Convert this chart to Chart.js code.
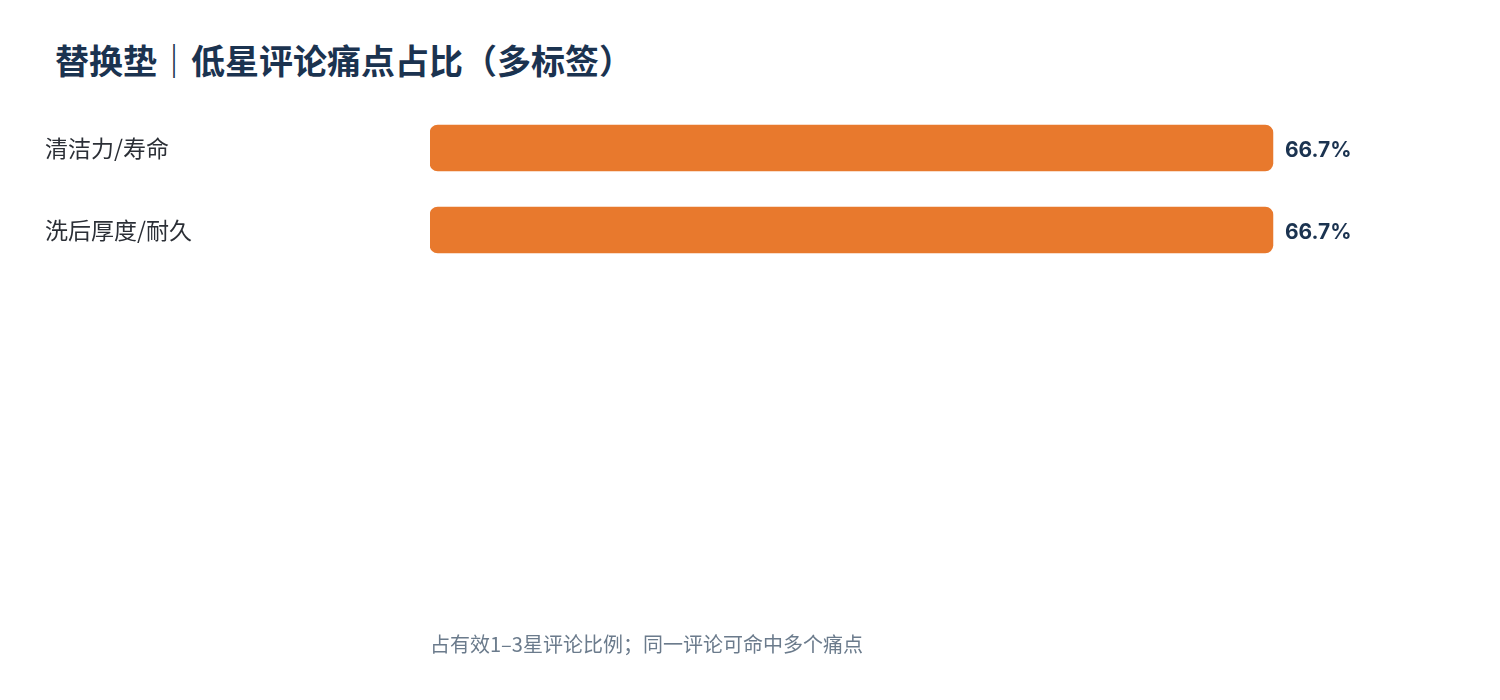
<!DOCTYPE html>
<html lang="zh">
<head>
<meta charset="utf-8">
<title>替换垫｜低星评论痛点占比（多标签）</title>
<script src="https://cdn.jsdelivr.net/npm/chart.js@4.4.0/dist/chart.umd.min.js"></script>
<style>
  html, body { margin: 0; padding: 0; background: #ffffff; }
  .wrap { position: relative; width: 1500px; height: 700px; }
  .title {
    position: absolute; left: 55px; top: 37px;
    font: bold 34px 'Noto Sans CJK SC', 'Noto Sans', sans-serif;
    color: #1b3350; line-height: 46px; white-space: nowrap;
  }
  canvas { position: absolute; left: 0; top: 0; }
</style>
</head>
<body>
<div class="wrap">
  <div class="title">替换垫｜低星评论痛点占比（多标签）</div>
  <canvas id="chart" width="1500" height="700"></canvas>
</div>
<script>
/* ── Data ───────────────────────────────────────────────────── */
const CATEGORIES = ['清洁力/寿命', '洗后厚度/耐久'];
const SHARE_PCT  = [66.7, 66.7];
const X_MAX      = 80;
const FOOTNOTE   = '占有效1–3星评论比例；同一评论可命中多个痛点';

const BAR_COLOR  = '#e8792d';
const INK        = '#1b3350';

/* ── Value labels at bar ends ───────────────────────────────── */
const valueLabels = {
  id: 'valueLabels',
  afterDatasetsDraw(chart) {
    const ctx = chart.ctx;
    ctx.save();
    ctx.font = "bold 21px Inter, 'Noto Sans', sans-serif";
    ctx.fillStyle = INK;
    ctx.textAlign = 'left';
    ctx.textBaseline = 'middle';
    chart.getDatasetMeta(0).data.forEach((bar, i) => {
      ctx.fillText(SHARE_PCT[i].toFixed(1) + '%', bar.x + 12, bar.y + 3);
    });
    ctx.restore();
  },
};

/* ── Chart ──────────────────────────────────────────────────── */
new Chart(document.getElementById('chart').getContext('2d'), {
  type: 'bar',
  data: {
    labels: CATEGORIES,
    datasets: [{
      data: SHARE_PCT,
      backgroundColor: BAR_COLOR,
      borderWidth: 0,
      borderRadius: 8,
      borderSkipped: false,
      barThickness: 46,
    }],
  },
  options: {
    indexAxis: 'y',
    responsive: false,
    animation: false,
    layout: { padding: { top: 107, left: 45, right: 59, bottom: 44 } },
    plugins: {
      legend: { display: false },
      tooltip: { enabled: false },
    },
    scales: {
      x: {
        min: 0,
        max: X_MAX,
        grid: { display: false },
        border: { display: false },
        ticks: { display: false },
        afterFit: s => { s.height = 385; },
        title: {
          display: true,
          text: FOOTNOTE,
          align: 'start',
          color: '#6b7b8c',
          padding: { top: 0, bottom: 0 },
          font: { family: "'Noto Sans CJK SC', sans-serif", size: 20 },
        },
      },
      y: {
        grid: { display: false },
        border: { display: false },
        afterFit: s => { s.width = 385; },
        ticks: {
          crossAlign: 'far',
          color: '#2b2f36',
          padding: 0,
          font: { family: "'Noto Sans CJK SC', sans-serif", size: 23 },
        },
      },
    },
  },
  plugins: [valueLabels],
});
</script>
</body>
</html>
